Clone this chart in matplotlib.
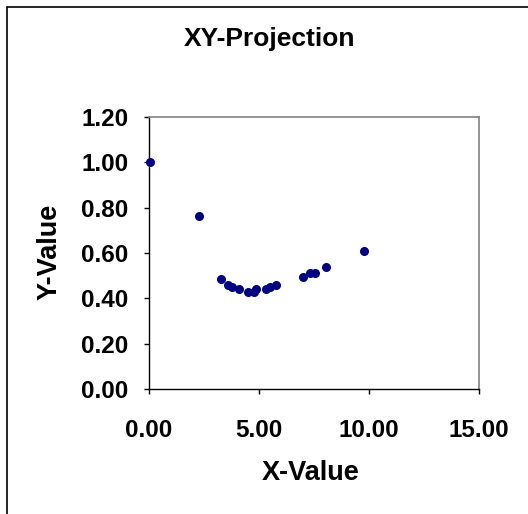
import matplotlib
matplotlib.use("Agg")
import matplotlib.pyplot as plt
from matplotlib.patches import Rectangle

# values
x_vals = [0.05, 2.3, 3.3, 3.6, 3.8, 4.1, 4.5, 4.8, 4.9, 5.35, 5.5, 5.8, 7.0, 7.35, 7.55, 8.05, 9.8]
y_vals = [1.00, 0.765, 0.485, 0.46, 0.45, 0.44, 0.43, 0.43, 0.44, 0.44, 0.45, 0.46, 0.495, 0.51, 0.51, 0.54, 0.61]
x_ticks = [0, 5, 10, 15]
y_ticks = [0.0, 0.2, 0.4, 0.6, 0.8, 1.0, 1.2]

plt.rcParams['font.family'] = ['Liberation Sans', 'DejaVu Sans']
plt.rcParams['font.weight'] = 'bold'

W, H = 528, 514
fig = plt.figure(figsize=(W / 100, H / 100), dpi=100)

# outer chart border
fig.patches.append(Rectangle((7 / W, -0.1), 1.2, 1.1 - 7 / H, transform=fig.transFigure,
                             fill=False, edgecolor='black', linewidth=1.2))

ax = fig.add_axes([148.5 / W, 1 - 389 / H, 330 / W, 272 / H])
ax.scatter(x_vals, y_vals, s=30, color='#000080', zorder=3, clip_on=False)

ax.set_xlim(0, 15)
ax.set_ylim(0, 1.2)
ax.set_xticks(x_ticks)
ax.set_yticks(y_ticks)
ax.set_xticklabels([f"{v:.2f}" for v in x_ticks])
ax.set_yticklabels([f"{v:.2f}" for v in y_ticks])
ax.tick_params(axis='both', direction='out', length=3.5, width=1, labelsize=17.5)
ax.tick_params(axis='x', pad=18)
ax.tick_params(axis='y', pad=11)

for side in ['top', 'right']:
    ax.spines[side].set_color('#808080')
    ax.spines[side].set_linewidth(1.2)
for side in ['left', 'bottom']:
    ax.spines[side].set_color('black')
    ax.spines[side].set_linewidth(1)

fig.text(270 / W, 1 - 39 / H, 'XY-Projection', ha='center', va='center', fontsize=19, fontweight='bold')
fig.text(311 / W, 1 - 473 / H, 'X-Value', ha='center', va='center', fontsize=19.5, fontweight='bold')
fig.text(50 / W, 1 - 252 / H, 'Y-Value', ha='center', va='center', fontsize=19.5, fontweight='bold', rotation=90)

fig.savefig('out.png', dpi=100)
